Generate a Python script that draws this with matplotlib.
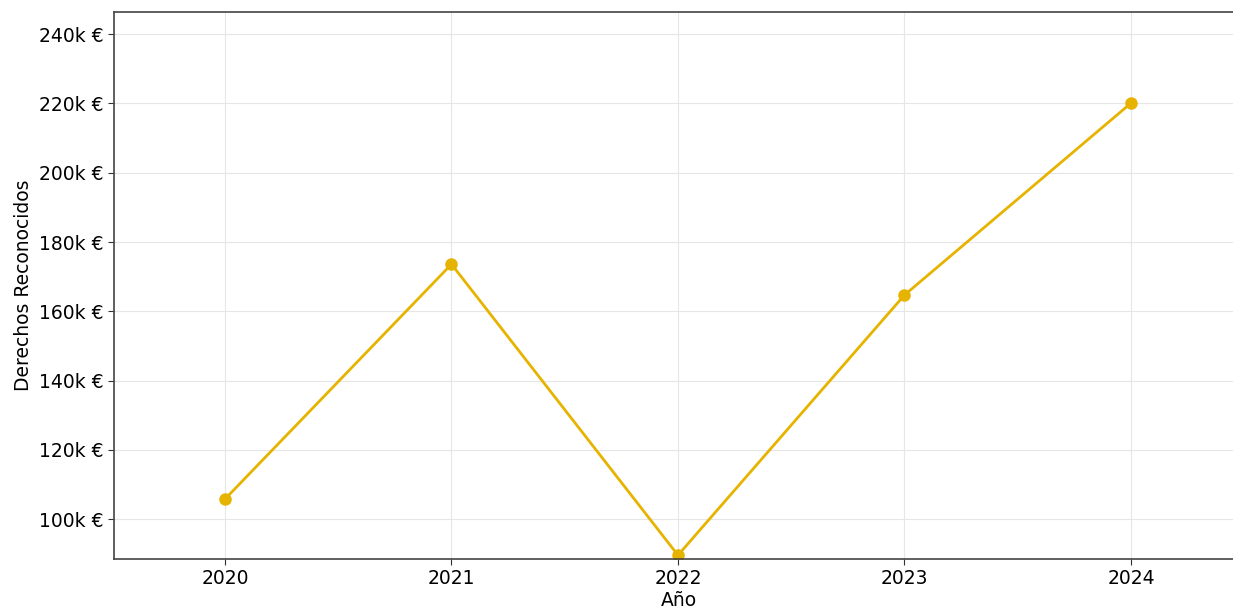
import matplotlib
matplotlib.use("Agg")
from matplotlib import pyplot as plt
from matplotlib.ticker import FuncFormatter

years = [2020, 2021, 2022, 2023, 2024]
derechos = [105800, 173600, 89600, 164700, 220100]
yticks = [100000, 120000, 140000, 160000, 180000, 200000, 220000, 240000]

fig = plt.figure(figsize=(12.33, 6.11), dpi=100)
x0, x1 = 2019.51, 2024.5
ax = fig.add_axes([114 / 1233, 52 / 611, (x1 - x0) * 226.5 / 1233, 547 / 611])

ax.plot(years, derechos, marker="o", color="#E6B400", linewidth=2, markersize=8)
ax.set_xlim(x0, x1)
ax.set_ylim(88500, 246400)
ax.set_xticks(years)
ax.set_yticks(yticks)
ax.yaxis.set_major_formatter(FuncFormatter(lambda v, p: f"{int(v / 1000)}k €"))
ax.tick_params(labelsize=13.5, length=4, color="#333333")
ax.set_xlabel("Año", fontsize=13.5, labelpad=2)
ax.set_ylabel("Derechos Reconocidos", fontsize=13.5)
ax.grid(True, color="#e6e6e6", linewidth=0.8)
for s in ax.spines.values():
    s.set_color("#444444")
    s.set_linewidth(1.2)

fig.savefig("out.png", dpi=100)
